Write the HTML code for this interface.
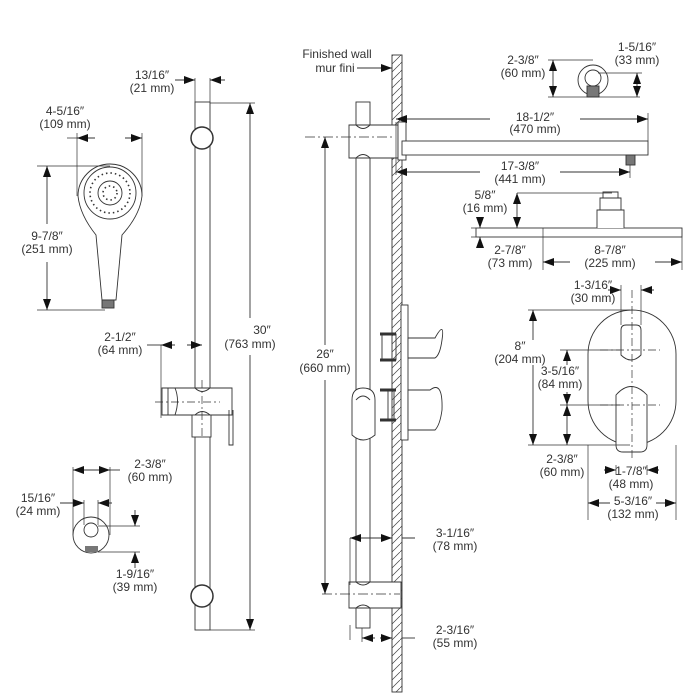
<!DOCTYPE html>
<html><head><style>body{margin:0;background:#fff}svg{display:block}text{font-family:"Liberation Sans",sans-serif;font-size:12px;fill:#333;text-anchor:middle}</style></head><body>
<svg id="s" width="700" height="700" viewBox="0 0 700 700" xmlns="http://www.w3.org/2000/svg">
<defs>
<marker id="a" viewBox="0 0 10 10" refX="10" refY="5" markerUnits="userSpaceOnUse" markerWidth="11" markerHeight="8" orient="auto-start-reverse"><path d="M0,0L10,5L0,10z" fill="#111"/></marker>
<pattern id="h" width="8" height="8" patternUnits="userSpaceOnUse"><path d="M0,8L8,0" stroke="#444" stroke-width="0.7"/></pattern>
</defs>
<g fill="none" stroke="#333" stroke-width="0.9">
<rect x="195" y="102" width="15" height="528" fill="#fff"/>
<circle cx="202" cy="138" r="11" fill="#fff" stroke-width="1.5"/>
<circle cx="202" cy="596" r="11" fill="#fff" stroke-width="1.5"/>
<path d="M195,78V102M210,78V102" stroke-width="0.7"/>
<path d="M175,80H195M225,80H210" marker-end="url(#a)"/>
<path d="M210,103H255M210,630H255" stroke-width="0.7"/>
<path d="M250,318V103M250,355V630" marker-end="url(#a)"/>
<path d="M162,388H232V415H162Z" fill="#fff"/>
<path d="M168,388V415M175,388Q180,400 175,415M195,388Q202,395 210,388M195,415Q202,408 210,415"/>
<rect x="192" y="415" width="19" height="22" fill="#fff"/>
<path d="M229,410V445H233V410"/>
<path d="M155,402H220M202,380V437" stroke-dasharray="8,3,2,3" stroke-width="0.7"/>
<path d="M147,345H161" /><path d="M175,345H161M187,345H202" marker-end="url(#a)"/>
<path d="M161,345V418" stroke-width="0.7"/>
<path d="M78,196A32,32 0 1 1 142,196Q140,215 122,235L116,300H102L96,235Q80,215 78,196Z" fill="#fff"/>
<circle cx="110" cy="193" r="26"/>
<circle cx="110" cy="193" r="12"/>
<g stroke-width="1.6" stroke-dasharray="1.5,3">
<circle cx="110" cy="193" r="20"/><circle cx="110" cy="193" r="7"/></g>
<rect x="102" y="300" width="12" height="8" fill="#777"/>
<path d="M77,133V196M142,133V196M67,138H77" stroke-width="0.7"/>
<path d="M95,138H77M125,138H142" marker-end="url(#a)"/>
<path d="M37,166H110M37,310H105" stroke-width="0.7"/>
<path d="M47,224V166M47,262V310" marker-end="url(#a)"/>
<circle cx="91" cy="535" r="18" fill="#fff"/>
<circle cx="91" cy="530" r="7"/>
<rect x="85" y="546" width="13" height="6" fill="#777" stroke="none"/>
<path d="M73,467V535M110,467V535M84,500V525M98,500V525" stroke-width="0.7"/>
<path d="M110,470H120"/><path d="M92,470H73M92,470H110" marker-end="url(#a)"/>
<path d="M60,503H84M112,503H98" marker-end="url(#a)"/>
<path d="M98,526H140M98,552H140" stroke-width="0.7"/>
<path d="M135,510V526M135,568V552" marker-end="url(#a)"/>
<rect x="392" y="55" width="10" height="637" fill="url(#h)"/>
<path d="M357,68H392" marker-end="url(#a)"/>
<rect x="356" y="102" width="14" height="526" fill="#fff"/>
<path d="M349,125H398V158H349Z" fill="#fff"/>
<path d="M356,125Q363,132 370,125M356,158Q363,151 370,158"/>
<rect x="398" y="122" width="8" height="38" fill="#fff"/>
<path d="M349,582H401V608H349Z" fill="#fff"/>
<path d="M356,582Q363,588 370,582M356,608Q363,602 370,608"/>
<path d="M305,137H392M322,594H400" stroke-dasharray="10,3,2,3" stroke-width="0.7"/>
<path d="M325,345V137M325,380V594" marker-end="url(#a)"/>
<path d="M352,400Q352,388 363,388Q375,388 375,400V435Q363,445 352,435Z" fill="#fff"/>
<path d="M356,400Q363,392 370,400"/>
<path d="M350,538V585M350,625V640" stroke-width="0.7"/>
<path d="M350,538H392M402,538H415" />
<path d="M370,538H350M378,538H392" marker-end="url(#a)"/>
<path d="M362,628V642" stroke-width="0.7"/>
<path d="M402,638H415"/><path d="M375,638H362M380,638H392" marker-end="url(#a)"/>
<rect x="401" y="305" width="7" height="135" fill="#fff"/>
<path d="M380,334H396M380,360H396M380,390H396M380,420H396" stroke-width="3"/>
<rect x="382" y="334" width="14" height="26"/><rect x="388" y="390" width="6" height="30"/>
<path d="M408,338H435Q445,320 442,340Q440,355 435,358H408Z" fill="#fff"/>
<path d="M408,390H430Q443,380 442,410Q440,425 435,430H408Z" fill="#fff"/>
<rect x="402" y="141" width="246" height="14" fill="#fff"/>
<rect x="626" y="155" width="9" height="10" fill="#777"/>
<path d="M648,113V141M396,122V175M630,165V178" stroke-width="0.7"/>
<path d="M490,119H396M580,119H648" marker-end="url(#a)"/>
<path d="M480,172H396M560,172H630" marker-end="url(#a)"/>
<circle cx="593" cy="80" r="15"/><circle cx="593" cy="78" r="8"/>
<rect x="587" y="86" width="12" height="11" fill="#777"/>
<path d="M548,60H593M548,97H640M598,73H642" stroke-width="0.7"/>
<path d="M553,78V60M553,78V97" marker-end="url(#a)"/>
<path d="M637,85V73M637,85V97" marker-end="url(#a)"/>
<rect x="476" y="228" width="206" height="9" fill="#fff"/>
<path d="M597,228V210H624V228M600,210V198H621V210M603,198V192H618V198" fill="#fff"/>
<path d="M517,193H612M471,228H476M471,237H476M682,237V270M543,228V270" stroke-width="0.7"/>
<path d="M517,210V193M517,210V228" marker-end="url(#a)"/>
<path d="M480,218V228M480,247V237" marker-end="url(#a)"/>
<path d="M570,262H543M655,262H682" marker-end="url(#a)"/>
<rect x="588" y="310" width="88" height="135" rx="44" fill="#fff"/>
<path d="M621,330Q621,325 626,325H636Q641,325 641,330V355Q631,365 621,355Z" fill="#fff"/>
<path d="M616,395Q631,378 647,395V445Q647,452 640,452H623Q616,452 616,445Z" fill="#fff"/>
<path d="M600,350H660M600,405H660M632,290V460" stroke-dasharray="8,3,2,3" stroke-width="0.7"/>
<path d="M528,310H630M560,350H620M560,405H620M528,445H630M621,285V325M641,285V325M616,465V475M647,465V475M588,445V520M676,445V520" stroke-width="0.7"/>
<path d="M533,340V310M533,365V445" marker-end="url(#a)"/>
<path d="M567,365V350M567,392V405M567,420V405M567,420V445" marker-end="url(#a)"/>
<path d="M608,290H621M654,290H641" marker-end="url(#a)"/>
<path d="M604,470H616M659,470H647" marker-end="url(#a)"/>
<path d="M610,503H588M656,503H676" marker-end="url(#a)"/>
</g>
<g id="arr" fill="#111"></g>
<text x="152" y="79">13/16″</text><text x="152" y="92">(21 mm)</text>
<text x="65" y="115">4-5/16″</text><text x="65" y="128">(109 mm)</text>
<text x="47" y="240">9-7/8″</text><text x="47" y="253">(251 mm)</text>
<text x="120" y="341">2-1/2″</text><text x="120" y="354">(64 mm)</text>
<text x="262" y="334">30″</text><text x="250" y="348">(763 mm)</text>
<text x="150" y="468">2-3/8″</text><text x="150" y="481">(60 mm)</text>
<text x="38" y="502">15/16″</text><text x="38" y="515">(24 mm)</text>
<text x="135" y="578">1-9/16″</text><text x="135" y="591">(39 mm)</text>
<text x="337" y="58">Finished wall</text><text x="335" y="72">mur fini</text>
<text x="325" y="358">26″</text><text x="325" y="372">(660 mm)</text>
<text x="455" y="537">3-1/16″</text><text x="455" y="550">(78 mm)</text>
<text x="455" y="634">2-3/16″</text><text x="455" y="647">(55 mm)</text>
<text x="523" y="64">2-3/8″</text><text x="523" y="77">(60 mm)</text>
<text x="637" y="51">1-5/16″</text><text x="637" y="64">(33 mm)</text>
<text x="535" y="121">18-1/2″</text><text x="535" y="133">(470 mm)</text>
<text x="520" y="170">17-3/8″</text><text x="520" y="183">(441 mm)</text>
<text x="485" y="199">5/8″</text><text x="485" y="212">(16 mm)</text>
<text x="510" y="254">2-7/8″</text><text x="510" y="267">(73 mm)</text>
<text x="610" y="254">8-7/8″</text><text x="610" y="267">(225 mm)</text>
<text x="593" y="289">1-3/16″</text><text x="593" y="302">(30 mm)</text>
<text x="520" y="350">8″</text><text x="520" y="363">(204 mm)</text>
<text x="560" y="375">3-5/16″</text><text x="560" y="388">(84 mm)</text>
<text x="562" y="463">2-3/8″</text><text x="562" y="476">(60 mm)</text>
<text x="631" y="475">1-7/8″</text><text x="631" y="488">(48 mm)</text>
<text x="633" y="505">5-3/16″</text><text x="633" y="518">(132 mm)</text>
</svg>
<script>
(function(){
var ns="http://www.w3.org/2000/svg",g=document.getElementById("arr");
var ps=document.querySelectorAll("path[marker-end]");
for(var i=0;i<ps.length;i++){
 var d=ps[i].getAttribute("d"),re=/M([\d.]+),([\d.]+)([HV])([\d.]+)/g,m;
 while((m=re.exec(d))){
  var x=+m[1],y=+m[2],ex,ey;
  if(m[3]=="H"){ex=+m[4];ey=y;}else{ex=x;ey=+m[4];}
  var dx=ex-x,dy=ey-y,L=Math.sqrt(dx*dx+dy*dy)||1;dx/=L;dy/=L;
  var l=11,w=4,bx=ex-dx*l,by=ey-dy*l;
  var p=document.createElementNS(ns,"polygon");
  p.setAttribute("points",ex+","+ey+" "+(bx-dy*w)+","+(by+dx*w)+" "+(bx+dy*w)+","+(by-dx*w));
  g.appendChild(p);
 }
 ps[i].removeAttribute("marker-end");
}
})();
</script>
</body></html>
